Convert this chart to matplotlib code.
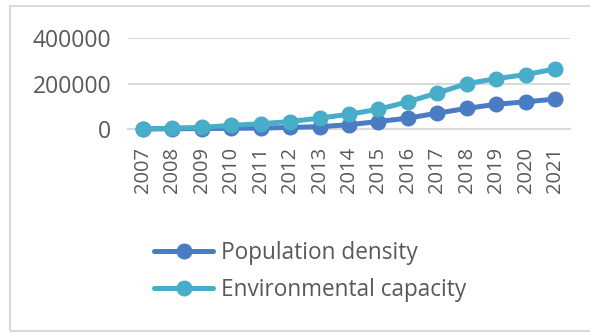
import matplotlib
matplotlib.use('Agg')
import matplotlib.pyplot as plt
from matplotlib.patches import Rectangle

years = ['2007', '2008', '2009', '2010', '2011', '2012', '2013', '2014',
         '2015', '2016', '2017', '2018', '2019', '2020', '2021']
population_density = [0, 1000, 2000, 3000, 4000, 7000, 10000, 19000,
                      33000, 48000, 70000, 91000, 109000, 120000, 132000]
environmental_capacity = [0, 4000, 7000, 16000, 23000, 33000, 48000, 65000,
                          87000, 120000, 159000, 200000, 222000, 240000, 265000]
y_ticks = [0, 200000, 400000]

plt.rcParams['font.family'] = ['Open Sans', 'DejaVu Sans']
text_color = '#595959'
grid_color = '#d9d9d9'

fig = plt.figure(figsize=(5.9, 3.33), dpi=100)
ax = fig.add_axes([128/590, 1-129/333, (570-128)/590, (129-38.3)/333])

x = list(range(len(years)))
ax.plot(x, population_density, color='#4a7cc4', lw=3.6, marker='o', ms=10.5,
        label='Population density', zorder=3, solid_capstyle='round')
ax.plot(x, environmental_capacity, color='#47adc9', lw=3.6, marker='o', ms=10.5,
        label='Environmental capacity', zorder=4, solid_capstyle='round')

ax.set_xlim(-0.5, len(years) - 0.5)
ax.set_ylim(0, 400000)
ax.set_yticks(y_ticks)
ax.set_yticklabels([str(v) for v in y_ticks])
ax.set_xticks(x)
ax.set_xticklabels(years, rotation=90)
ax.tick_params(axis='y', length=0, pad=12, labelsize=16.5, labelcolor=text_color)
ax.tick_params(axis='x', length=0, pad=13, labelsize=14.5, labelcolor=text_color)
ax.yaxis.grid(True, color=grid_color, lw=1.5)
ax.set_axisbelow(True)
for s in ['top', 'right', 'left']:
    ax.spines[s].set_visible(False)
ax.spines['bottom'].set_color(grid_color)
ax.spines['bottom'].set_linewidth(1.5)
for ln in ax.lines:
    ln.set_clip_on(False)

leg = fig.legend(loc='upper left', bbox_to_anchor=(134/590, 1-221/333),
                 frameon=False, fontsize=16.3, handlelength=2.6,
                 handletextpad=0.35, labelspacing=0.55)
for t in leg.get_texts():
    t.set_color(text_color)

# outer chart border
fig.patches.append(Rectangle((10/590, 2/333), 1.0, 1-8/333,
                             transform=fig.transFigure, fill=False,
                             edgecolor=grid_color, lw=1.5))

fig.savefig('out.png', dpi=100)
